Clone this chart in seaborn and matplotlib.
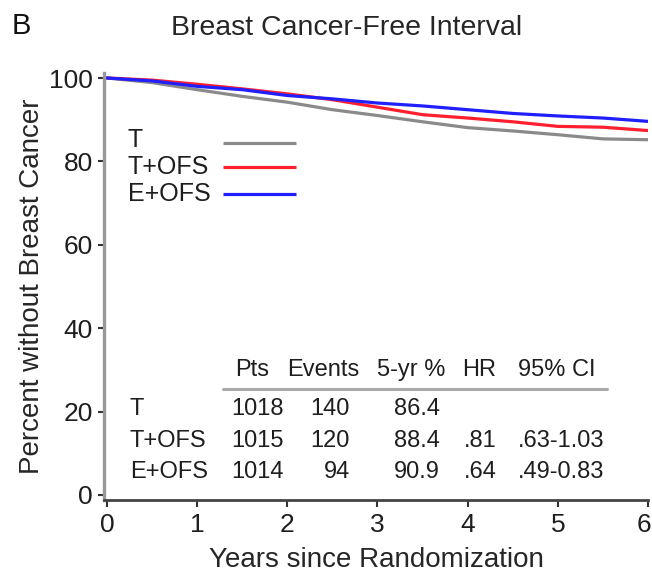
import numpy as np
import pandas as pd
import matplotlib
matplotlib.use("Agg")
import matplotlib.pyplot as plt
import matplotlib.transforms as mtransforms
from matplotlib.lines import Line2D
import seaborn as sns

# Kaplan-Meier estimates, breast cancer-free interval (%), by treatment arm
years = [0.0, 0.5, 1.0, 1.5, 2.0, 2.5, 3.0, 3.5, 4.0, 4.5, 5.0, 5.5, 6.0]
t_arm = [100.0, 98.9, 97.2, 95.6, 94.2, 92.4, 91.0, 89.5, 88.1, 87.3, 86.4, 85.4, 85.2]
t_ofs_arm = [100.0, 99.5, 98.5, 97.4, 96.2, 94.8, 93.0, 91.2, 90.4, 89.5, 88.4, 88.2, 87.4]
e_ofs_arm = [100.0, 99.3, 98.0, 97.2, 95.8, 95.0, 94.0, 93.3, 92.4, 91.5, 90.9, 90.4, 89.6]

arms = ["T", "T+OFS", "E+OFS"]
arm_colors = ["#8a8a8a", "#ff1f2f", "#2020ff"]

# Summary table
table_header = ["Pts", "Events", "5-yr %", "HR", "95% CI"]
pts = ["1018", "1015", "1014"]
events = ["140", "120", "94"]
five_yr = ["86.4", "88.4", "90.9"]
hr = ["", ".81", ".64"]
ci = ["", ".63-1.03", ".49-0.83"]

x_ticks = [0, 1, 2, 3, 4, 5, 6]
y_ticks = [0, 20, 40, 60, 80, 100]

df = pd.DataFrame({
    "year": years * 3,
    "pct": t_arm + t_ofs_arm + e_ofs_arm,
    "arm": [a for a in arms for _ in years],
})

sns.set_style("ticks")
plt.rcParams["font.family"] = ["Liberation Sans", "DejaVu Sans"]
plt.rcParams["text.color"] = "#1e1e1e"

W, H = 652, 573
fig = plt.figure(figsize=(W / 100, H / 100), dpi=100)


def fx(px):
    return px / W


def fy(py):
    return 1 - py / H


ax_l, ax_r, ax_t, ax_b = 104, 648, 73, 500
ax = fig.add_axes([fx(ax_l), fy(ax_b), (ax_r - ax_l) / W, (ax_b - ax_t) / H])

sns.lineplot(data=df, x="year", y="pct", hue="arm", hue_order=arms,
             palette=arm_colors, linewidth=2.3, ax=ax, legend=False)

ax.set_xlim(-0.033, 6.0)
ax.set_ylim(-1.2, 101.2)
ax.set_xticks(x_ticks)
ax.set_yticks(y_ticks)
ax.tick_params(axis="x", labelsize=19, length=5, width=1.5, color="#333333",
               pad=4, labelcolor="#1e1e1e")
ax.tick_params(axis="y", labelsize=19, length=4, width=1.5, color="#333333",
               pad=4, labelcolor="#1e1e1e")

# keep the last x tick label inside the canvas
fig.canvas.draw()
last = ax.get_xticklabels()[-1]
last.set_transform(last.get_transform() +
                   mtransforms.ScaledTranslation(-4 / 100, 0, fig.dpi_scale_trans))

for side in ("top", "right"):
    ax.spines[side].set_visible(False)
ax.spines["left"].set_color("#999999")
ax.spines["left"].set_linewidth(2.4)
ax.spines["bottom"].set_color("#444444")
ax.spines["bottom"].set_linewidth(2.0)

ax.set_xlabel("Years since Randomization", fontsize=20, va="center")
ax.set_ylabel("Percent without Breast Cancer", fontsize=20, va="center")
ax.xaxis.set_label_coords((376 - ax_l) / (ax_r - ax_l), (ax_b - 560) / (ax_b - ax_t))
ax.yaxis.set_label_coords((32 - ax_l) / (ax_r - ax_l), (ax_b - 286) / (ax_b - ax_t))

# Title and panel letter
fig.text(fx(347), fy(28), "Breast Cancer-Free Interval", fontsize=20.5,
         ha="center", va="center", color="#262626")
fig.text(fx(12), fy(26), "B", fontsize=21, ha="left", va="center", color="#111111")


def label_at(text, x, yc, size, ha="left", color=None):
    cap = 0.716 * size * 100 / 72
    fig.text(fx(x), fy(yc + cap / 2), text, fontsize=size, ha=ha,
             va="baseline", color=color)


# Legend: left-aligned labels, line samples in a column to their right
legend_rows = [138, 165, 192]
legend_lines = [143, 167, 194]
for name, color, yc, yl in zip(arms, arm_colors, legend_rows, legend_lines):
    label_at(name, 128, yc, 18)
    fig.add_artist(Line2D([fx(223), fx(296)], [fy(yl), fy(yl)], color=color,
                          linewidth=2.3, solid_capstyle="butt",
                          transform=fig.transFigure))

# Summary table
tfs = 17
header_x = [235, 287, 377, 462, 518]
for label, x in zip(table_header, header_x):
    label_at(label, x, 368, tfs)

fig.add_artist(Line2D([fx(223), fx(607)], [fy(389), fy(389)], color="#aaaaaa",
                      linewidth=2.2, transform=fig.transFigure))

row_y = [407, 439, 470]
for i, yc in enumerate(row_y):
    label_at(arms[i], 130, yc, tfs)
    label_at(pts[i], 231, yc, tfs)
    label_at(events[i], 350, yc, tfs, ha="right")
    label_at(five_yr[i], 440, yc, tfs, ha="right")
    label_at(hr[i], 497, yc, tfs, ha="right")
    label_at(ci[i], 518, yc, tfs)

fig.savefig("out.png", dpi=100)
